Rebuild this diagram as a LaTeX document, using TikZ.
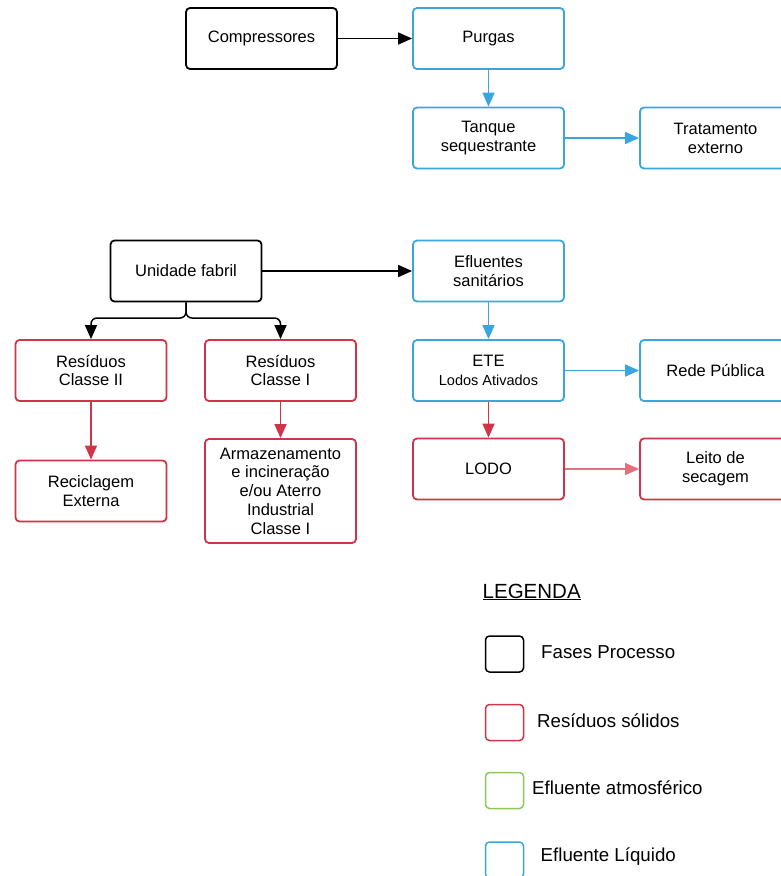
\documentclass[tikz,border=0pt]{standalone}
\usepackage{fontspec}
\setmainfont{Liberation Sans}
\usetikzlibrary{arrows.meta}
\definecolor{cred}{RGB}{208,52,72}
\definecolor{cblue}{RGB}{58,166,224}
\definecolor{cgreen}{RGB}{141,198,90}
\definecolor{clred}{RGB}{228,112,126}
\tikzset{
 box/.style={draw, line width=1.8pt, rounded corners=4pt, minimum width=151pt, minimum height=61pt, align=center, font=\fontsize{16.5}{18.8}\selectfont, inner sep=0pt},
 blackbox/.style={box, draw=black},
 redbox/.style={box, draw=cred},
 bluebox/.style={box, draw=cblue},
 legbox/.style={draw, line width=1.5pt, rounded corners=4pt, minimum width=38pt, minimum height=36pt, inner sep=0pt},
 legtext/.style={anchor=west, font=\fontsize{18.7}{21}\selectfont, inner sep=0pt},
 arr/.style={line width=1.5pt, -{Triangle[length=14pt,width=12pt]}},
}
\begin{document}
\begin{tikzpicture}[x=1pt,y=-1pt]
\useasboundingbox (0,0) rectangle (780,876);
% boxes
\node[blackbox] (comp) at (261.5,38.5) {Compressores};
\node[bluebox] (purg) at (488.5,38.5) {Purgas};
\node[bluebox] (tanq) at (488.5,138) {Tanque\\sequestrante};
\node[bluebox] (trat) at (715.5,138) {Tratamento\\externo};
\node[blackbox] (unid) at (186,271) {Unidade fabril};
\node[bluebox] (eflu) at (488.5,271) {Efluentes\\sanitários};
\node[bluebox] (ete) at (488.5,370.5) {ETE\\{\fontsize{14.5}{16}\selectfont Lodos Ativados}};
\node[bluebox] (rede) at (715.5,370.5) {Rede Pública};
\node[redbox] (lodo) at (488.5,469) {LODO};
\node[redbox] (leit) at (715.5,469) {Leito de\\secagem};
\node[redbox] (res2) at (91,370.5) {Resíduos\\Classe II};
\node[redbox] (res1) at (280.5,370.5) {Resíduos\\Classe I};
\node[redbox] (reci) at (91,491) {Reciclagem\\Externa};
\node[redbox, minimum height=104pt] (arma) at (280.5,491) {Armazenamento\\e incineração\\e/ou Aterro\\Industrial\\Classe I};
% connectors
\coordinate (junc) at (186,318);
\draw[arr, black] (comp) -- (purg);
\draw[arr, cblue] (purg) -- (tanq);
\draw[arr, cblue] (tanq) -- (trat);
\draw[arr, black] (unid) -- (eflu);
\draw[arr, cblue] (eflu) -- (ete);
\draw[arr, cblue] (ete) -- (rede);
\draw[arr, cred] (ete) -- (lodo);
\draw[arr, clred] (lodo) -- (leit);
\draw[arr, cred] (res2) -- (reci);
\draw[arr, cred] (res1) -- (arma);
\draw[arr, black, rounded corners=6pt] (unid.south) -- (junc) -| (res2.north);
\draw[arr, black, rounded corners=6pt] (unid.south) -- (junc) -| (res1.north);
% legend
\node[anchor=west, inner sep=0pt, font=\fontsize{20.5}{23}\selectfont] (leg) at (482.5,592) {\underline{LEGENDA}};
\node[legbox, draw=black] (l1) at (504.5,654) {};
\node[legbox, draw=cred] (l2) at (504.5,722.5) {};
\node[legbox, draw=cgreen] (l3) at (504.5,790.5) {};
\node[legbox, draw=cblue] (l4) at (504.5,860) {};
\node[legtext] (t1) at (541,652) {Fases Processo};
\node[legtext] (t2) at (537,720.5) {Resíduos sólidos};
\node[legtext] (t3) at (532,788) {Efluente atmosférico};
\node[legtext] (t4) at (540.5,857) {Efluente Líquido};
\end{tikzpicture}
\end{document}
